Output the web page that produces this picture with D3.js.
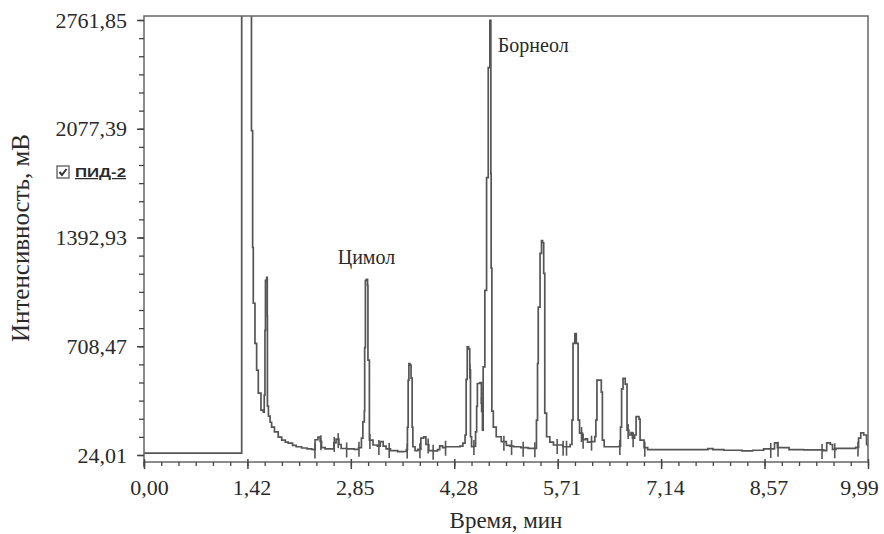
<!DOCTYPE html>
<html lang="ru">
<head>
<meta charset="utf-8">
<title>Хроматограмма</title>
<script src="https://cdn.jsdelivr.net/npm/d3@7/dist/d3.min.js"></script>
<style>
  body { margin: 0; background: #fff; }
  text { font-family: "Liberation Serif", "Times New Roman", serif; fill: #2a2a2a; }
</style>
</head>
<body>
<script>
// chromatogram trace, time in min / signal in mV
var timeMin = [0, 1.348, 1.348, 1.469, 1.483, 1.499, 1.508, 1.531, 1.554, 1.577, 1.614, 1.646, 1.659, 1.669, 1.676, 1.692, 1.701, 1.703, 1.717,
  1.74, 1.761, 1.80, 1.852, 1.90, 1.95, 1.99, 2.05, 2.10, 2.175, 2.25, 2.313,
  2.34, 2.36, 2.40, 2.43, 2.45, 2.50, 2.58, 2.62, 2.65, 2.69, 2.72, 2.80, 2.90, 2.96,
  3.00, 3.02, 3.04, 3.045, 3.055, 3.07, 3.085, 3.09, 3.11, 3.16, 3.22, 3.26, 3.30, 3.34, 3.40, 3.50, 3.58, 3.62,
  3.635, 3.645, 3.655, 3.67, 3.685, 3.70, 3.71, 3.74, 3.78, 3.82, 3.86, 3.89, 3.93, 3.98, 4.05, 4.08, 4.12, 4.16, 4.30, 4.36,
  4.40, 4.43, 4.445, 4.46, 4.48, 4.495, 4.505, 4.52, 4.55, 4.575, 4.59, 4.60, 4.635, 4.655, 4.67,
  4.68, 4.703, 4.727, 4.75, 4.772, 4.786, 4.79, 4.80, 4.82, 4.86, 4.93, 5.00, 5.05, 5.10, 5.20, 5.30, 5.40,
  5.415, 5.43, 5.44, 5.465, 5.485, 5.50, 5.515, 5.53, 5.555, 5.60, 5.65, 5.78, 5.88,
  5.905, 5.92, 5.945, 5.965, 5.99, 6.01, 6.05, 6.09, 6.12, 6.17, 6.22,
  6.235, 6.25, 6.28, 6.31, 6.325, 6.35, 6.50, 6.56,
  6.575, 6.59, 6.61, 6.64, 6.665, 6.69, 6.72, 6.74, 6.77, 6.79, 6.83, 6.845, 6.90, 6.95,
  7.20, 7.70, 7.78, 7.85, 8.00, 8.25, 8.40, 8.55, 8.67, 8.70, 8.74, 8.90, 9.10, 9.30, 9.38, 9.42, 9.47, 9.50, 9.55, 9.72, 9.82, 9.86, 9.89, 9.93, 9.97, 9.99];
var signalMv = [36, 36, 3400, 3400, 2065, 1330, 979, 727, 558, 413, 307, 294, 401, 809, 1123, 1142, 900, 332, 269,
  230, 200, 170, 137, 118, 105, 99, 85, 76, 68, 62, 59,
  58, 120, 137, 110, 70, 62, 62, 100, 124, 90, 65, 62, 60, 70,
  130, 233, 300, 700, 1123, 1130, 1092, 621, 118, 87, 80, 108, 80, 62, 52, 45, 46, 58,
  200, 495, 600, 590, 508, 200, 76, 51, 60, 130, 139, 90, 52, 50, 58, 81, 70, 76, 76, 80,
  99, 150, 500, 704, 690, 560, 139, 76, 80, 170, 330, 474, 480, 350, 181,
  579, 1060, 1770, 2462, 2760, 1795, 1200, 300, 200, 139, 108, 85, 80, 76, 70, 66, 66,
  244, 600, 955, 1293, 1374, 1360, 1167, 288, 139, 105, 87, 76, 90,
  244, 727, 788, 727, 244, 162, 120, 125, 105, 108, 140,
  244, 495, 495, 420, 118, 76, 76, 80,
  200, 440, 506, 470, 181, 150, 165, 130, 150, 265, 250, 118, 70, 58,
  58, 58, 64, 58, 54, 50, 54, 62, 62, 100, 70, 58, 56, 56, 52, 100, 90, 60, 66, 66, 72, 130, 164, 150, 90, 76];
// integration marks along the baseline
var markTimes = [2.359, 2.441, 2.625, 2.68, 2.796, 2.966, 3.117, 3.241, 3.383, 3.632, 3.807, 3.921, 3.99, 4.161,
  4.497, 4.552, 4.658, 4.966, 5.072, 5.232, 5.393, 5.701, 5.783, 5.83, 6.037, 6.059, 6.175, 6.566, 6.68, 6.749, 6.91,
  8.648, 8.749, 9.356, 9.531, 9.852];

var xTickValues = [0, 1.427, 2.854, 4.281, 5.708, 7.135, 8.562, 9.99];
var xTickLabels = ["0,00", "1,42", "2,85", "4,28", "5,71", "7,14", "8,57", "9,99"];
var yTickValues = [24.01, 708.47, 1392.93, 2077.39, 2761.85];
var yTickLabels = ["24,01", "708,47", "1392,93", "2077,39", "2761,85"];

var peakNames = ["Цимол", "Борнеол"];
var peakTimes = [3.07, 4.772];
var peakTops = [1130, 2745];

var w = 884, h = 534;
var plotL = 144, plotR = 868, plotT = 16, axisY = 462;

var svg = d3.select("body").append("svg").attr("width", w).attr("height", h);

var x = d3.scaleLinear().domain([0, 9.99]).range([plotL, plotR]);
var y = d3.scaleLinear().domain([24.01, 2761.85]).range([455, 20]);

var data = timeMin.map(function(t, i) { return [t, signalMv[i]]; });

svg.append("clipPath").attr("id", "plot")
  .append("rect").attr("x", plotL).attr("y", plotT).attr("width", plotR - plotL).attr("height", axisY - plotT);

// trace, drawn stepwise like the recorder output
var line = d3.line().curve(d3.curveStepAfter)
  .x(function(d) { return x(d[0]); }).y(function(d) { return y(d[1]); });
svg.append("path").datum(data)
  .attr("clip-path", "url(#plot)")
  .attr("d", line)
  .attr("fill", "none").attr("stroke", "#555").attr("stroke-width", 1.7);

// little vertical marks where peaks were cut
var bis = d3.bisector(function(d) { return d[0]; }).left;
function valAt(t) { var i = Math.max(0, bis(data, t) - 1); return data[i][1]; }
svg.append("g").attr("clip-path", "url(#plot)").selectAll("line").data(markTimes).enter().append("line")
  .attr("x1", function(d) { return x(d); }).attr("x2", function(d) { return x(d); })
  .attr("y1", function(d) { return y(valAt(d)) - 6; })
  .attr("y2", function(d) { return y(valAt(d)) + 9; })
  .attr("stroke", "#555").attr("stroke-width", 1.6);

// frame
svg.append("rect").attr("x", plotL).attr("y", plotT).attr("width", plotR - plotL).attr("height", axisY - plotT)
  .attr("fill", "none").attr("stroke", "#666").attr("stroke-width", 1.5);

// x axis
var minorX = d3.range(0, 7 * 6 + 1).map(function(i) { return i * 9.99 / 42; });
svg.append("g").attr("transform", "translate(0," + axisY + ")")
  .call(d3.axisBottom(x).tickValues(minorX).tickFormat("").tickSizeInner(4).tickSizeOuter(0))
  .call(function(g) { g.select(".domain").remove(); g.selectAll("line").attr("stroke", "#444").attr("stroke-width", 1.3); });
svg.append("g").attr("transform", "translate(0," + (axisY - 3) + ")")
  .call(d3.axisBottom(x).tickValues(xTickValues).tickFormat(function(d, i) { return xTickLabels[i]; })
    .tickSizeInner(10).tickSizeOuter(0).tickPadding(10))
  .call(function(g) {
    g.select(".domain").remove();
    g.selectAll("line").attr("stroke", "#444").attr("stroke-width", 1.5);
    g.selectAll("text").attr("font-family", "Liberation Serif").attr("font-size", 22).attr("fill", "#2a2a2a")
      .attr("dx", function(d, i) { return i === 0 ? 5 : (i === xTickLabels.length - 1 ? -9 : 4); });
  });

// y axis
var minorY = d3.range(0, 4 * 6 + 1).map(function(i) { return 24.01 + i * 684.46 / 6; });
svg.append("g").attr("transform", "translate(" + plotL + ",0)")
  .call(d3.axisLeft(y).tickValues(minorY).tickFormat("").tickSizeInner(5).tickSizeOuter(0))
  .call(function(g) { g.select(".domain").remove(); g.selectAll("line").attr("stroke", "#444").attr("stroke-width", 1.3); });
svg.append("g").attr("transform", "translate(" + plotL + ",0)")
  .call(d3.axisLeft(y).tickValues(yTickValues).tickFormat(function(d, i) { return yTickLabels[i]; })
    .tickSizeInner(7).tickSizeOuter(0).tickPadding(10))
  .call(function(g) {
    g.select(".domain").remove();
    g.selectAll("line").attr("stroke", "#444").attr("stroke-width", 1.5);
    g.selectAll("text").attr("font-family", "Liberation Serif").attr("font-size", 22).attr("fill", "#2a2a2a");
  });
svg.append("line").attr("x1", plotL).attr("x2", plotL).attr("y1", axisY).attr("y2", axisY + 5)
  .attr("stroke", "#444").attr("stroke-width", 1.5);

// peak names
svg.append("text").attr("x", x(peakTimes[0])).attr("y", y(peakTops[0]) - 15)
  .attr("text-anchor", "middle").attr("font-size", 20).text(peakNames[0]);
svg.append("text").attr("x", x(peakTimes[1]) + 8).attr("y", y(peakTops[1]) + 29)
  .attr("font-size", 20).text(peakNames[1]);

// axis titles
svg.append("text").attr("x", 506).attr("y", 528).attr("text-anchor", "middle")
  .attr("font-size", 23).text("Время, мин");
svg.append("text").attr("transform", "translate(29,238) rotate(-90)").attr("text-anchor", "middle")
  .attr("font-size", 25).text("Интенсивность, мВ");

// channel checkbox
var chk = svg.append("g").attr("transform", "translate(57,166)");
chk.append("rect").attr("width", 12).attr("height", 12).attr("fill", "#fff").attr("stroke", "#666").attr("stroke-width", 1.4);
chk.append("path").attr("d", "M2.5,6 L5,9 L9.5,3").attr("fill", "none").attr("stroke", "#333").attr("stroke-width", 2);
chk.append("text").attr("x", 18).attr("y", 11)
  .attr("font-weight", "bold").attr("font-size", 12.5).attr("fill", "#555")
  .attr("textLength", 51).attr("lengthAdjust", "spacingAndGlyphs")
  .attr("text-decoration", "underline").style("font-family", "'Liberation Sans', Arial, sans-serif").text("ПИД-2");
</script>
</body>
</html>
